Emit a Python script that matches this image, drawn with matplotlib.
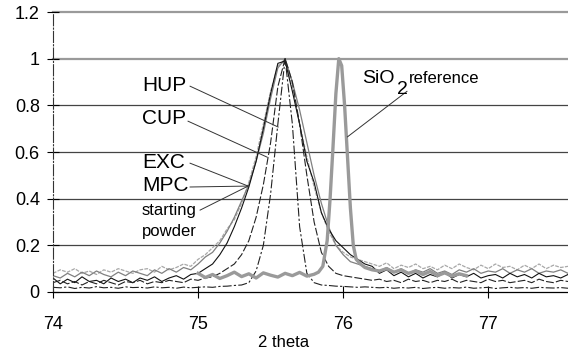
import numpy as np
from matplotlib import pyplot as plt

plt.rcParams['font.family'] = ['Liberation Sans', 'DejaVu Sans']

# 2 theta scan grid for the five sample curves (0.05 deg step)
two_theta = np.round(np.arange(74.0, 77.551, 0.05), 2)

starting_powder = [0.08, 0.095, 0.085, 0.10, 0.08, 0.09, 0.075, 0.095, 0.085, 0.10,
                   0.09, 0.08, 0.095, 0.10, 0.085, 0.11, 0.095, 0.105, 0.12, 0.11,
                   0.14, 0.16, 0.19, 0.22, 0.27, 0.31, 0.38, 0.47, 0.58, 0.72,
                   0.86, 0.97, 0.99, 0.88, 0.72, 0.58, 0.45, 0.34, 0.26, 0.20,
                   0.17, 0.15, 0.14, 0.13, 0.12,
                   0.11, 0.125, 0.10, 0.115, 0.105, 0.12, 0.10, 0.11, 0.095, 0.115,
                   0.10, 0.12, 0.105, 0.095, 0.115, 0.10, 0.12, 0.105, 0.11, 0.095,
                   0.115, 0.10, 0.12, 0.10, 0.115, 0.105, 0.11]
mpc = [0.07, 0.06, 0.08, 0.065, 0.085, 0.07, 0.09, 0.075, 0.065, 0.085,
       0.07, 0.09, 0.08, 0.07, 0.095, 0.08, 0.10, 0.085, 0.105, 0.095,
       0.12, 0.15, 0.17, 0.21, 0.26, 0.32, 0.39, 0.46, 0.56, 0.68,
       0.83, 0.96, 1.0, 0.90, 0.78, 0.64, 0.50, 0.38, 0.28, 0.20,
       0.16, 0.13, 0.12, 0.11, 0.10,
       0.09, 0.105, 0.085, 0.10, 0.08, 0.095, 0.085, 0.10, 0.08, 0.09,
       0.075, 0.095, 0.085, 0.10, 0.08, 0.09, 0.085, 0.10, 0.08, 0.095,
       0.085, 0.10, 0.08, 0.09, 0.085, 0.095, 0.08]
exc = [0.06, 0.035, 0.055, 0.04, 0.065, 0.045, 0.05, 0.035, 0.06, 0.045,
       0.055, 0.04, 0.06, 0.05, 0.065, 0.045, 0.06, 0.07, 0.055, 0.075,
       0.08, 0.10, 0.12, 0.16, 0.21, 0.28, 0.36, 0.45, 0.56, 0.70,
       0.85, 0.98, 0.99, 0.86, 0.72, 0.56, 0.47, 0.34, 0.27, 0.22,
       0.19, 0.16, 0.14, 0.12, 0.11,
       0.08, 0.095, 0.07, 0.085, 0.065, 0.08, 0.06, 0.075, 0.065, 0.085,
       0.06, 0.075, 0.065, 0.08, 0.06, 0.07, 0.075, 0.06, 0.08, 0.065,
       0.075, 0.06, 0.08, 0.065, 0.07, 0.06, 0.075]
cup = [0.04, 0.05, 0.035, 0.045, 0.03, 0.045, 0.035, 0.05, 0.04, 0.03,
       0.045, 0.04, 0.05, 0.035, 0.045, 0.04, 0.05, 0.045, 0.04, 0.055,
       0.05, 0.06, 0.065, 0.08, 0.10, 0.12, 0.16, 0.22, 0.32, 0.46,
       0.64, 0.88, 1.0, 0.90, 0.72, 0.50, 0.30, 0.17, 0.11, 0.08,
       0.07, 0.065, 0.06, 0.055, 0.05,
       0.055, 0.045, 0.05, 0.04, 0.055, 0.045, 0.05, 0.04, 0.05, 0.045,
       0.055, 0.04, 0.05, 0.045, 0.04, 0.055, 0.045, 0.05, 0.04, 0.045,
       0.05, 0.04, 0.055, 0.045, 0.04, 0.05, 0.045]
hup = [0.02, 0.018, 0.022, 0.015, 0.02, 0.017, 0.023, 0.018, 0.02, 0.016,
       0.022, 0.019, 0.02, 0.017, 0.022, 0.018, 0.02, 0.016, 0.021, 0.018,
       0.02, 0.022, 0.02, 0.024, 0.025, 0.028, 0.03, 0.04, 0.09, 0.20,
       0.42, 0.72, 1.0, 0.72, 0.28, 0.08, 0.04, 0.03, 0.028, 0.025,
       0.024, 0.022, 0.02, 0.022, 0.02,
       0.018, 0.02, 0.016, 0.019, 0.017, 0.02, 0.015, 0.018, 0.02, 0.016,
       0.019, 0.017, 0.021, 0.016, 0.018, 0.02, 0.015, 0.018, 0.02, 0.017,
       0.019, 0.016, 0.02, 0.018, 0.017, 0.019, 0.016]

# SiO2 reference has its own scan range
sio2_theta = [75.00, 75.05, 75.10, 75.15, 75.20, 75.25, 75.30, 75.35, 75.40, 75.45,
              75.50, 75.55, 75.60, 75.65, 75.70, 75.75, 75.80, 75.83, 75.86, 75.89,
              75.91, 75.93, 75.95, 75.97, 75.99, 76.01, 76.03, 76.05, 76.07, 76.09,
              76.12, 76.15, 76.20, 76.25, 76.30, 76.35, 76.40, 76.45, 76.50, 76.55,
              76.60, 76.65, 76.70, 76.75, 76.80, 76.85]
sio2 = [0.080, 0.062, 0.075, 0.058, 0.070, 0.085, 0.066, 0.078, 0.060, 0.082,
        0.072, 0.064, 0.080, 0.070, 0.084, 0.068, 0.076, 0.085, 0.11, 0.22,
        0.40, 0.62, 0.85, 1.0, 0.97, 0.80, 0.58, 0.36, 0.20, 0.14,
        0.12, 0.105, 0.095, 0.09, 0.10, 0.085, 0.095, 0.08, 0.09, 0.075,
        0.088, 0.07, 0.082, 0.068, 0.078, 0.07]

fig = plt.figure(figsize=(5.68, 3.51), dpi=100)
ax = fig.add_axes([0.0933, 0.1681, 0.9067, 0.7977])

for y in [0.2, 0.4, 0.6, 0.8]:
    ax.axhline(y, color='#444444', lw=0.9, zorder=1)
for y in [1.0, 1.2]:
    ax.axhline(y, color='#9a9a9a', lw=1.6, zorder=1, clip_on=False)

ax.plot(two_theta, starting_powder, color='#a8a8a8', lw=0.9, ls=(0, (3, 1)))
ax.plot(two_theta, mpc, color='#808080', lw=0.9)
ax.plot(two_theta, exc, color='#111111', lw=0.8)
ax.plot(two_theta, cup, color='#222222', lw=0.8, ls=(0, (7, 2)))
ax.plot(two_theta, hup, color='#222222', lw=0.8, ls=(0, (8, 2, 2, 2)))
ax.plot(sio2_theta, sio2, color='#9a9a9a', lw=2.4)

ax.set_xlim(74, 77.55)
ax.set_ylim(0, 1.2)
ax.set_xticks([74, 75, 76, 77])
ax.set_yticks([0, 0.2, 0.4, 0.6, 0.8, 1, 1.2])
ax.set_yticklabels(['0', '0.2', '0.4', '0.6', '0.8', '1', '1.2'])
ax.tick_params(axis='both', direction='inout', length=9, width=0.8, labelsize=13)
ax.tick_params(axis='y', pad=5)
ax.tick_params(axis='x', pad=13)
for s in ['top', 'right']:
    ax.spines[s].set_visible(False)
ax.spines['left'].set_linestyle((0, (10, 2, 1, 2)))
ax.spines['left'].set_linewidth(0.8)
ax.spines['left'].set_color('#333333')
ax.spines['bottom'].set_linewidth(0.9)

ax.set_xlabel('2 theta', fontsize=12, labelpad=0)
ax.xaxis.set_label_coords(0.447, -0.155)

# labels with leader lines
labels = [('HUP', 0.886, 15, (74.945, 0.882), (75.552, 0.707)),
          ('CUP', 0.745, 15, (74.931, 0.732), (75.476, 0.578)),
          ('EXC', 0.557, 15, (74.945, 0.552), (75.345, 0.454)),
          ('MPC', 0.458, 15, (74.945, 0.450), (75.345, 0.454)),
          ('starting', 0.351, 12, (75.014, 0.351), (75.345, 0.454))]
for txt, ty, fs, p0, p1 in labels:
    ax.text(74.614, ty, txt, fontsize=fs, va='center', ha='left')
    ax.plot([p0[0], p1[0]], [p0[1], p1[1]], color='#333333', lw=0.7)
ax.text(74.614, 0.261, 'powder', fontsize=12, va='center', ha='left')

ax.text(76.13, 0.916, 'SiO', fontsize=14, va='center', ha='left')
ax.text(76.37, 0.868, '2', fontsize=14, va='center', ha='left')
ax.text(76.455, 0.916, 'reference', fontsize=12, va='center', ha='left')
ax.plot([76.44, 76.03], [0.86, 0.665], color='#333333', lw=0.7)

fig.savefig('out.png', dpi=100)
